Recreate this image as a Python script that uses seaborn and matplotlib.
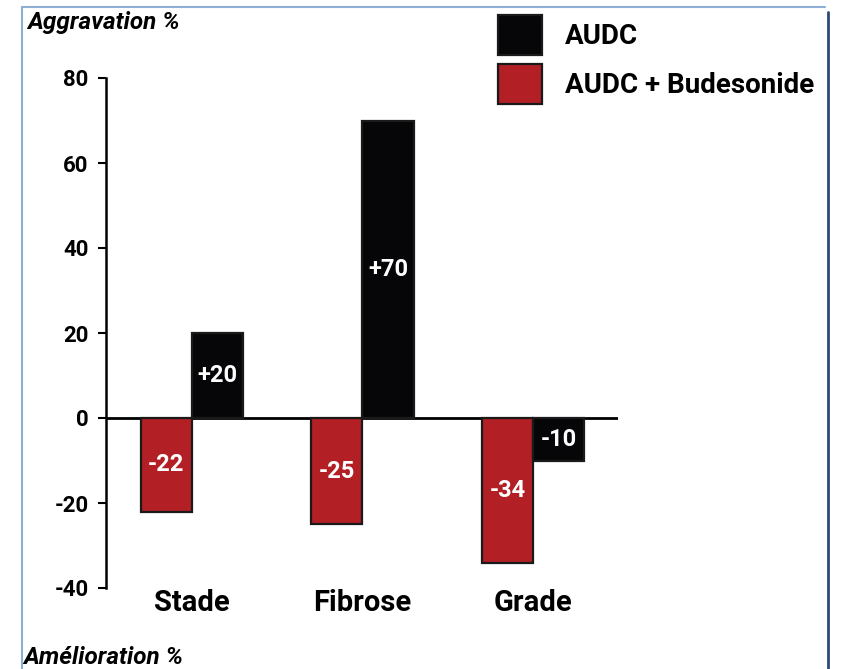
import numpy as np
import pandas as pd
import matplotlib
matplotlib.use('Agg')
import matplotlib.pyplot as plt
import seaborn as sns
from matplotlib.patches import Patch, Rectangle
from matplotlib.lines import Line2D

categories = ['Stade', 'Fibrose', 'Grade']
audc = [20, 70, -10]
audc_budesonide = [-22, -25, -34]
labels_audc = ['+20', '+70', '-10']
labels_budesonide = ['-22', '-25', '-34']
yticks = [-40, -20, 0, 20, 40, 60, 80]

df = pd.DataFrame({
    'Paramètre': categories * 2,
    'Variation': audc_budesonide + audc,
    'Traitement': ['AUDC + Budesonide'] * 3 + ['AUDC'] * 3,
})

sns.set_style('white')
plt.rcParams['font.family'] = ['Roboto', 'DejaVu Sans']
plt.rcParams['text.color'] = 'black'
plt.rcParams['xtick.color'] = 'black'
plt.rcParams['ytick.color'] = 'black'

fig = plt.figure(figsize=(8.49, 6.69), dpi=100)
ax = fig.add_axes([106 / 849, 1 - 588 / 669, (618 - 106) / 849, (588 - 78) / 669])

colors = {'AUDC + Budesonide': '#b21f25', 'AUDC': '#060608'}
sns.barplot(data=df, x='Paramètre', y='Variation', hue='Traitement',
            hue_order=['AUDC + Budesonide', 'AUDC'], palette=colors,
            width=0.6, edgecolor='#1a1a1a', linewidth=1.6, legend=False,
            saturation=1, ax=ax)

ax.bar_label(ax.containers[0], labels=labels_budesonide, label_type='center',
             color='white', fontsize=17, fontweight='bold')
ax.bar_label(ax.containers[1], labels=labels_audc, label_type='center',
             color='white', fontsize=17, fontweight='bold')

ax.axhline(0, color='black', lw=2, zorder=0.5)
ax.set_ylim(-40, 80)
ax.set_xlim(-0.504, 2.499)
ax.set_yticks(yticks)
ax.set_yticklabels([str(v) for v in yticks], fontsize=16, fontweight='bold')
ax.tick_params(axis='y', direction='out', length=5.5, width=1.5, pad=7, left=True)
ax.tick_params(axis='x', length=0, pad=1)
for lab in ax.get_xticklabels():
    lab.set_fontsize(21)
    lab.set_fontweight('bold')
ax.set_xlabel('')
ax.set_ylabel('')
for s in ['top', 'right', 'bottom']:
    ax.spines[s].set_visible(False)
ax.spines['left'].set_linewidth(1.8)
ax.spines['left'].set_color('black')

handles = [Patch(facecolor=colors['AUDC'], edgecolor='#1a1a1a', lw=1.6, label='AUDC'),
           Patch(facecolor=colors['AUDC + Budesonide'], edgecolor='#1a1a1a', lw=1.6,
                 label='AUDC + Budesonide')]
fig.legend(handles=handles, loc='upper left', bbox_to_anchor=(498 / 849, 1 - 15 / 669),
           frameon=False, prop={'size': 20, 'weight': 'bold'}, handlelength=1.6,
           handleheight=1.85, handletextpad=0.8, labelspacing=0.32, borderaxespad=0,
           borderpad=0)

fig.text(27 / 849, 1 - 22 / 669, 'Aggravation %', fontsize=17.5, fontweight='bold',
         fontstyle='italic', va='center', ha='left')
fig.text(23 / 849, 1 - 657 / 669, 'Amélioration %', fontsize=17.5, fontweight='bold',
         fontstyle='italic', va='center', ha='left')

# cadre
fig.add_artist(Rectangle((830 / 849, 0), 19 / 849, 1, transform=fig.transFigure,
                         facecolor='white', edgecolor='none', zorder=10))
fig.add_artist(Line2D([22 / 849, 22 / 849], [0, 1 - 7 / 669], transform=fig.transFigure,
                      color='#8faed4', lw=1.5, zorder=11))
fig.add_artist(Line2D([22 / 849, 825 / 849], [1 - 7 / 669, 1 - 7 / 669],
                      transform=fig.transFigure, color='#8faed4', lw=1.5, zorder=11))
fig.add_artist(Line2D([828 / 849, 828 / 849], [0, 1 - 12 / 669], transform=fig.transFigure,
                      color='#2c4a78', lw=2, zorder=11))

fig.savefig('out.png', dpi=100)
